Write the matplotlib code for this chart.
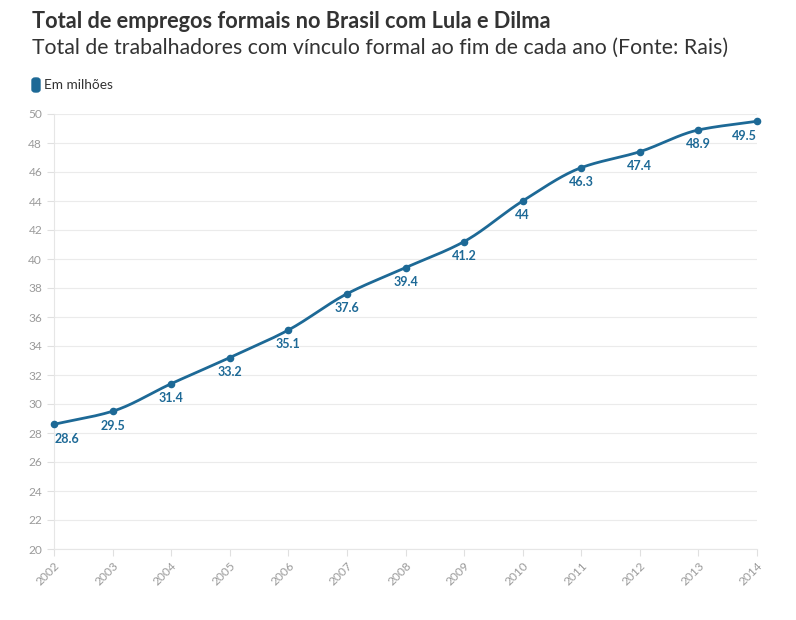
import numpy as np
import matplotlib
matplotlib.use("Agg")
import matplotlib.pyplot as plt
from matplotlib.patches import FancyBboxPatch

years = [2002, 2003, 2004, 2005, 2006, 2007, 2008, 2009, 2010, 2011, 2012, 2013, 2014]
values = [28.6, 29.5, 31.4, 33.2, 35.1, 37.6, 39.4, 41.2, 44.0, 46.3, 47.4, 48.9, 49.5]
labels = ["28.6", "29.5", "31.4", "33.2", "35.1", "37.6", "39.4", "41.2", "44", "46.3", "47.4", "48.9", "49.5"]
yticks = list(range(20, 51, 2))

title = "Total de empregos formais no Brasil com Lula e Dilma"
subtitle = "Total de trabalhadores com vínculo formal ao fim de cada ano (Fonte: Rais)"
legend_label = "Em milhões"

color = "#1d6996"
plt.rcParams['font.family'] = ['Lato', 'DejaVu Sans']

def monotone(x, y, n=40):
    x = np.asarray(x, float); y = np.asarray(y, float)
    h = np.diff(x); d = np.diff(y) / h
    m = np.zeros_like(y)
    m[0] = d[0]; m[-1] = d[-1]
    for i in range(1, len(y) - 1):
        if d[i-1] * d[i] <= 0:
            m[i] = 0
        else:
            w1 = 2 * h[i] + h[i-1]; w2 = h[i] + 2 * h[i-1]
            m[i] = (w1 + w2) / (w1 / d[i-1] + w2 / d[i])
    xs, ys = [], []
    for i in range(len(x) - 1):
        t = np.linspace(0, 1, n, endpoint=False)
        h00 = 2*t**3 - 3*t**2 + 1; h10 = t**3 - 2*t**2 + t
        h01 = -2*t**3 + 3*t**2; h11 = t**3 - t**2
        xs.append(x[i] + t*h[i])
        ys.append(h00*y[i] + h10*h[i]*m[i] + h01*y[i+1] + h11*h[i]*m[i+1])
    xs.append([x[-1]]); ys.append([y[-1]])
    return np.concatenate(xs), np.concatenate(ys)

W, H = 796, 620
fig = plt.figure(figsize=(W/100, H/100), dpi=100)
ax = fig.add_axes([54/W, 1-549/H, (757-54)/W, (549-114)/H])

sx, sy = monotone(years, values)
ax.plot(sx, sy, color=color, lw=2.0, solid_capstyle='round', zorder=3, clip_on=False)
ax.scatter(years, values, s=20, color=color, zorder=4, clip_on=False)
n = len(years)
for i, (x, v, lab) in enumerate(zip(years, values, labels)):
    ha, dx = 'center', 0
    if i == 0:
        ha, dx = 'left', 0.5
    elif i == n - 1:
        ha, dx = 'right', 0
    ax.annotate(lab, (x, v), xytext=(dx, -6), textcoords='offset points',
                ha=ha, va='top', fontsize=9, fontweight='bold', color=color)

ax.set_xlim(2002, 2014)
ax.set_ylim(20, 50)
ax.set_yticks(yticks)
ax.set_xticks(years)
ax.set_xticklabels([str(y) for y in years], rotation=45, ha='right', rotation_mode='anchor')
ax.grid(axis='y', color='#ebebeb', lw=0.8)
ax.set_axisbelow(True)
for s in ['top', 'right']:
    ax.spines[s].set_visible(False)
ax.spines['left'].set_color('#e6e6e6')
ax.spines['bottom'].set_color('#e6e6e6')
ax.tick_params(axis='both', colors='#e0e0e0', labelcolor='#9a9a9a', labelsize=8.6, length=5)
ax.tick_params(axis='x', pad=3)

fig.text(32/W, 1-22/H, title, fontsize=15.7, fontweight='bold', color='#333333', va='center', ha='left')
fig.text(32/W, 1-48/H, subtitle, fontsize=15.3, color='#333333', va='center', ha='left')
fig.patches.append(FancyBboxPatch((32/W, 1-92/H), 8/W, 14/H, boxstyle='round,pad=0,rounding_size=0.004',
                                  transform=fig.transFigure, color=color, figure=fig))
fig.text(44/W, 1-85/H, legend_label, fontsize=9.8, color='#333333', va='center', ha='left')

fig.savefig("out.png", dpi=100)
